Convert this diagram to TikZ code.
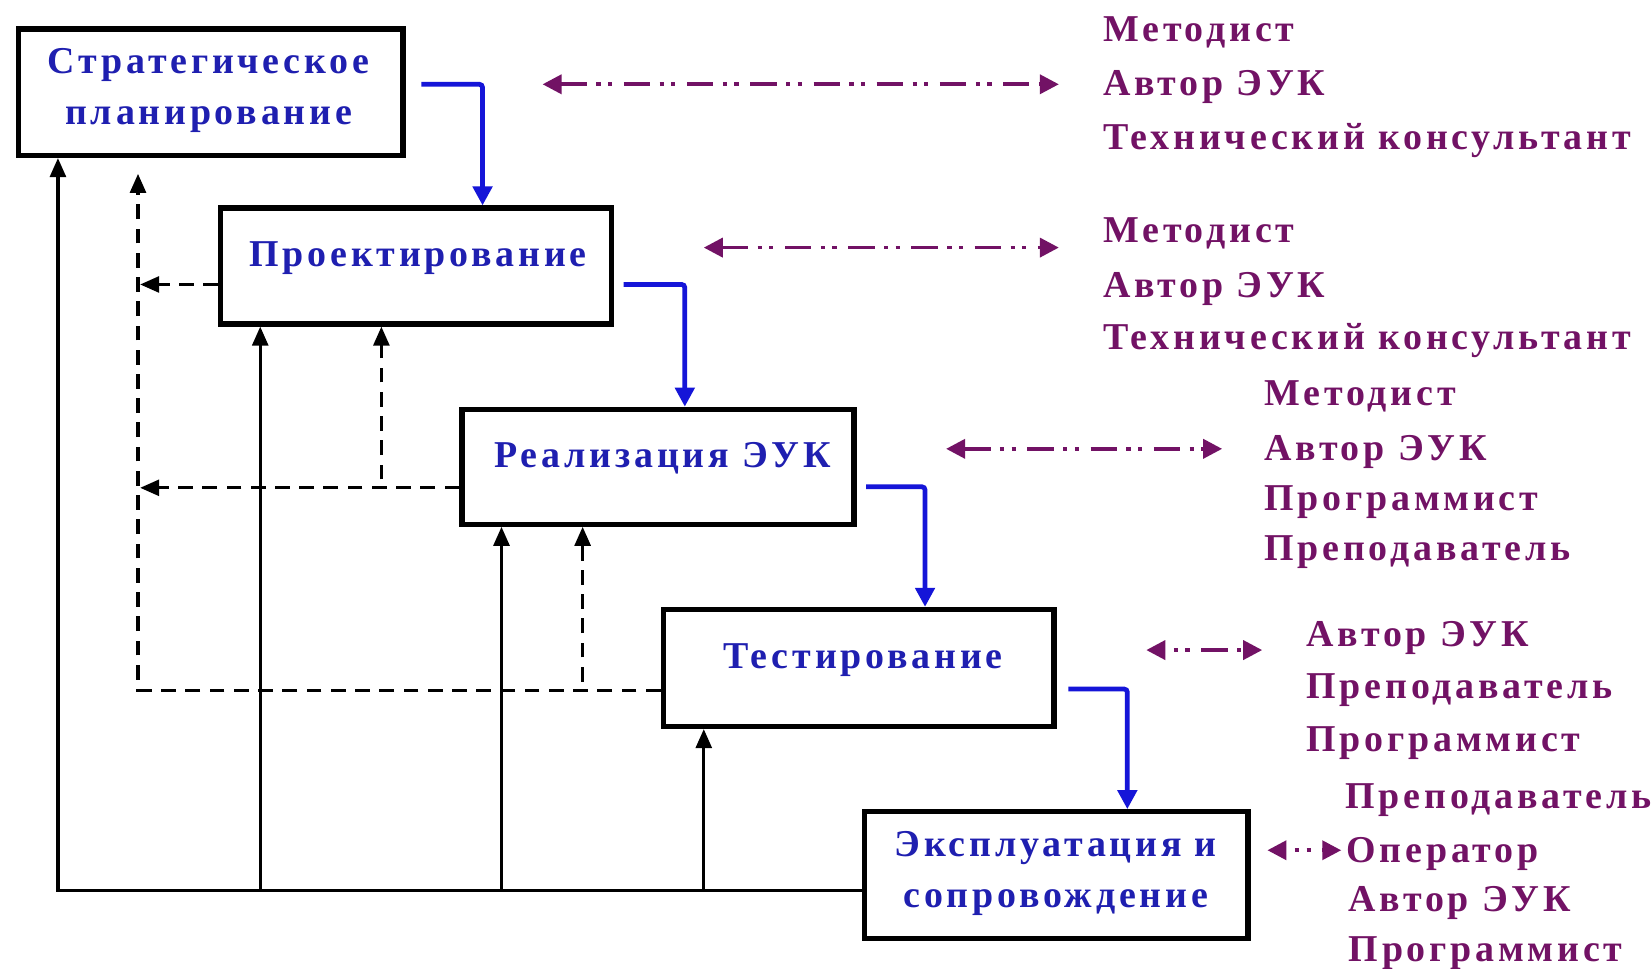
\documentclass[tikz,border=0pt]{standalone}
\usepackage{fontspec}
\setmainfont{Liberation Serif}[LetterSpace=10]
\usetikzlibrary{arrows.meta}
\definecolor{boxblue}{HTML}{1F1FB0}
\definecolor{flowblue}{HTML}{1515D8}
\definecolor{rolemag}{HTML}{721265}
\begin{document}
\begin{tikzpicture}[x=1pt,y=-1pt,
  stage/.style={draw=black, line width=5pt, fill=white, inner sep=0pt},
  stagetext/.style={text=boxblue, font=\fontsize{36}{48}\selectfont\bfseries, align=center, inner sep=0pt},
  roletext/.style={text=rolemag, font=\fontsize{36}{48}\selectfont\bfseries, anchor=west, inner sep=0pt, text height=28pt, text depth=8pt},
  flow/.style={draw=flowblue, line width=4.5pt, -{Triangle[length=18pt,width=18pt]}, rounded corners=3pt},
  fbarrow/.style={draw=black, line width=3pt, -{Triangle[length=18pt,width=15pt]}},
  ret/.style={draw=black, line width=3pt, dash pattern=on 14pt off 9pt},
  retarrow/.style={ret, -{Triangle[length=18pt,width=15pt]}},
  link/.style={draw=rolemag, line width=3.5pt, dash pattern=on 25pt off 9pt on 4pt off 7pt on 4pt off 11pt, {Triangle[length=18pt,width=18pt]}-{Triangle[length=18pt,width=18pt]}},
]
\useasboundingbox[fill=white] (0,0) rectangle (1568,919);

% stage boxes
\node[stage, minimum width=365pt, minimum height=120pt] (b1) at (200,87.5) {};
\node[stage, minimum width=371pt, minimum height=110pt] (b2) at (395,252.5) {};
\node[stage, minimum width=372pt, minimum height=109pt] (b3) at (624.5,443) {};
\node[stage, minimum width=371pt, minimum height=111pt] (b4) at (815,634) {};
\node[stage, minimum width=364pt, minimum height=120pt] (b5) at (1002.5,830.5) {};

\node[stagetext] (t1) at (198,86) {Стратегическое\\планирование};
\node[stagetext] (t2) at (397,245) {Проектирование};
\node[stagetext] (t3) at (629,435) {Реализация ЭУК};
\node[stagetext] (t4) at (819,627) {Тестирование};
\node[stagetext] (t5) at (1002,829) {Эксплуатация и\\сопровождение};

% main flow
\draw[flow] ([shift={(15,-7.5)}]b1.east) -| ([shift={(251,0)}]b2.north west);
\draw[flow] ([shift={(9,17.5)}]b2.east) -| ([shift={(214,0)}]b3.north west);
\draw[flow] ([shift={(9,19)}]b3.east) -| ([shift={(251,0)}]b4.north west);
\draw[flow] ([shift={(11,20)}]b4.east) -| ([shift={(252,0)}]b5.north west);

% solid feedback
\draw[fbarrow] ([shift={(0,14.5)}]b5.west) -| ([shift={(40,0)}]b1.south west);
\coordinate (u2) at (247,845);
\coordinate (u3) at (476,845);
\coordinate (u4) at (668,845);
\draw[fbarrow] (u2) -- (u2 |- b2.south);
\draw[fbarrow] (u3) -- (u3 |- b3.south);
\draw[fbarrow] (u4) -- (u4 |- b4.south);

% dashed returns
\coordinate (dl) at (133,0);
\coordinate (r2) at ([shift={(0,17.5)}]b2.west);
\coordinate (r3) at ([shift={(0,20)}]b3.west);
\coordinate (r4) at ([shift={(0,21)}]b4.west);
\draw[retarrow] (r4) -| ([shift={(116,15)}]b1.south west);
\draw[retarrow] (r2) -- (r2 -| dl);
\draw[retarrow] (r3) -- (r3 -| dl);
\coordinate (s2) at (362,455);
\coordinate (s3) at (553,647);
\draw[retarrow] (s2) -- (s2 |- b2.south);
\draw[retarrow] (s3) -- (s3 |- b3.south);

% roles
\node[roletext] (m1a) at (1047,29) {Методист};
\node[roletext] (m1b) at (1047,81) {Автор ЭУК};
\node[roletext] (m1c) at (1047,132) {Технический консультант};

\node[roletext] (m2a) at (1047,220) {Методист};
\node[roletext] (m2b) at (1047,272) {Автор ЭУК};
\node[roletext] (m2c) at (1047,322) {Технический консультант};

\node[roletext] (m3a) at (1200,375) {Методист};
\node[roletext] (m3b) at (1200,427) {Автор ЭУК};
\node[roletext] (m3c) at (1200,475) {Программист};
\node[roletext] (m3d) at (1200,522) {Преподаватель};

\node[roletext] (m4a) at (1240,604) {Автор ЭУК};
\node[roletext] (m4b) at (1240,653) {Преподаватель};
\node[roletext] (m4c) at (1240,703) {Программист};

\node[roletext] (m5a) at (1277,757) {Преподаватель};
\node[roletext] (m5b) at (1278,809) {Оператор};
\node[roletext] (m5c) at (1280,855) {Автор ЭУК};
\node[roletext] (m5d) at (1280,903) {Программист};

% role links
\coordinate (l1a) at (515,80);  \coordinate (l1b) at (1005,80);
\coordinate (l2a) at (668,235); \coordinate (l2b) at (1005,235);
\coordinate (l3a) at (898,426); \coordinate (l3b) at (1160,426);
\coordinate (l4a) at (1088,617); \coordinate (l4b) at (1198,617);
\coordinate (l5a) at (1203,807); \coordinate (l5b) at (1273,807);
\draw[link] (l1a) -- (l1b);
\draw[link] (l2a) -- (l2b);
\draw[link] (l3a) -- (l3b);
\draw[link, dash phase=25pt] (l4a) -- (l4b);
\draw[link, dash phase=25pt] (l5a) -- (l5b);
\end{tikzpicture}
\end{document}
